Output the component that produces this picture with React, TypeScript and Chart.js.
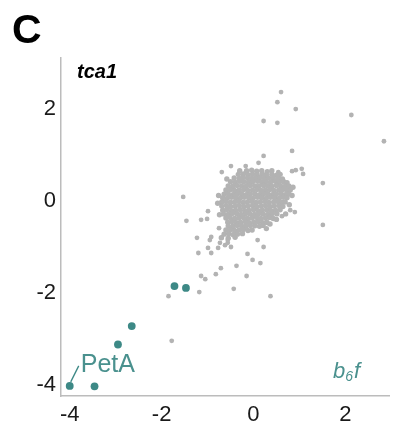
import React, { useEffect, useRef } from "react";
import { Chart, registerables } from "chart.js";

Chart.register(...registerables);

const xTicks = [-4, -2, 0, 2];
const yTicks = [-4, -2, 0, 2];

// b6f complex subunits (teal)
const b6fPoints: [number, number][] = [
  [-4.0, -4.02], [-3.46, -4.03], [-2.95, -3.12], [-2.65, -2.72], [-1.72, -1.85], [-1.47, -1.89],
];

// dense core of all proteins (gray)
const corePoints: [number, number][] = [
  [-0.15, 0.66], [-0.04, 0.67], [0.07, 0.65], [0.18, 0.66], [0.30, 0.64],
  [-0.33, 0.58], [-0.22, 0.59], [-0.12, 0.57], [-0.02, 0.58], [0.08, 0.57], [0.19, 0.59], [0.28, 0.57], [0.40, 0.58], [0.50, 0.56],
  [-0.42, 0.50], [-0.31, 0.49], [-0.23, 0.51], [-0.13, 0.50], [-0.04, 0.49], [0.05, 0.50], [0.15, 0.51], [0.24, 0.49], [0.33, 0.50], [0.43, 0.49], [0.54, 0.50], [0.63, 0.48],
  [-0.50, 0.42], [-0.40, 0.41], [-0.30, 0.43], [-0.21, 0.42], [-0.11, 0.41], [-0.02, 0.42], [0.09, 0.43], [0.18, 0.41], [0.27, 0.42], [0.37, 0.41], [0.47, 0.43], [0.56, 0.41], [0.66, 0.42], [0.73, 0.40],
  [-0.55, 0.33], [-0.45, 0.32], [-0.36, 0.34], [-0.26, 0.33], [-0.16, 0.32], [-0.07, 0.34], [0.03, 0.33], [0.12, 0.32], [0.22, 0.34], [0.31, 0.33], [0.40, 0.32], [0.50, 0.34], [0.59, 0.33], [0.69, 0.32], [0.77, 0.33],
  [-0.60, 0.24], [-0.50, 0.25], [-0.41, 0.23], [-0.31, 0.24], [-0.21, 0.25], [-0.12, 0.23], [-0.02, 0.24], [0.08, 0.25], [0.17, 0.23], [0.26, 0.24], [0.36, 0.25], [0.45, 0.23], [0.55, 0.24], [0.64, 0.25], [0.73, 0.23], [0.80, 0.24],
  [-0.64, 0.15], [-0.55, 0.16], [-0.45, 0.14], [-0.35, 0.15], [-0.26, 0.16], [-0.16, 0.14], [-0.07, 0.15], [0.03, 0.16], [0.13, 0.14], [0.22, 0.15], [0.31, 0.16], [0.41, 0.14], [0.50, 0.15], [0.60, 0.16], [0.69, 0.14], [0.77, 0.15],
  [-0.67, 0.07], [-0.57, 0.06], [-0.48, 0.08], [-0.39, 0.07], [-0.29, 0.06], [-0.20, 0.08], [-0.10, 0.07], [-0.01, 0.06], [0.09, 0.08], [0.18, 0.07], [0.28, 0.06], [0.37, 0.08], [0.46, 0.07], [0.56, 0.06], [0.65, 0.08], [0.73, 0.07],
  [-0.69, -0.02], [-0.60, -0.01], [-0.50, -0.03], [-0.41, -0.02], [-0.32, -0.01], [-0.22, -0.03], [-0.13, -0.02], [-0.03, -0.01], [0.06, -0.03], [0.15, -0.02], [0.25, -0.01], [0.34, -0.03], [0.44, -0.02], [0.53, -0.01], [0.62, -0.03], [0.69, -0.02],
  [-0.69, -0.11], [-0.59, -0.10], [-0.50, -0.12], [-0.40, -0.11], [-0.31, -0.10], [-0.21, -0.12], [-0.12, -0.11], [-0.02, -0.10], [0.07, -0.12], [0.17, -0.11], [0.26, -0.10], [0.36, -0.12], [0.45, -0.11], [0.55, -0.10], [0.64, -0.12],
  [-0.67, -0.20], [-0.58, -0.19], [-0.48, -0.21], [-0.39, -0.20], [-0.29, -0.19], [-0.19, -0.21], [-0.10, -0.20], [0.00, -0.19], [0.10, -0.21], [0.19, -0.20], [0.29, -0.19], [0.38, -0.21], [0.48, -0.20], [0.58, -0.19],
  [-0.65, -0.28], [-0.55, -0.29], [-0.46, -0.27], [-0.36, -0.28], [-0.27, -0.29], [-0.17, -0.27], [-0.08, -0.28], [0.02, -0.29], [0.12, -0.27], [0.21, -0.28], [0.31, -0.29], [0.41, -0.27], [0.51, -0.28],
  [-0.60, -0.37], [-0.51, -0.36], [-0.41, -0.38], [-0.32, -0.37], [-0.22, -0.36], [-0.13, -0.38], [-0.03, -0.37], [0.07, -0.36], [0.16, -0.38], [0.26, -0.37], [0.35, -0.36], [0.43, -0.38],
  [-0.56, -0.46], [-0.47, -0.45], [-0.37, -0.47], [-0.28, -0.46], [-0.18, -0.45], [-0.09, -0.47], [0.01, -0.46], [0.10, -0.45], [0.20, -0.47], [0.29, -0.46],
  [-0.55, -0.54], [-0.45, -0.55], [-0.36, -0.53], [-0.26, -0.54], [-0.17, -0.55], [-0.07, -0.53], [0.03, -0.54], [0.13, -0.55], [0.21, -0.53],
  [-0.60, -0.63], [-0.50, -0.62], [-0.41, -0.64], [-0.31, -0.63], [-0.22, -0.62], [-0.12, -0.64], [-0.03, -0.63],
  [-0.64, -0.72], [-0.54, -0.71], [-0.45, -0.73], [-0.35, -0.72], [-0.24, -0.71],
  [-0.70, -0.80], [-0.55, -0.81], [-0.40, -0.79],
  [-0.76, 0.12], [-0.78, -0.05], [-0.74, -0.30], [0.86, 0.30], [0.84, 0.12], [0.78, -0.08], [0.70, -0.28],
  [-0.30, 0.66], [0.40, 0.66], [0.58, 0.58], [-0.58, 0.48], [0.50, -0.40], [0.36, -0.50], [0.28, -0.60],
];

// scattered proteins outside the core (gray)
const scatterPoints: [number, number][] = [
  [0.60, 2.37], [0.52, 2.15], [0.92, 2.0], [0.22, 1.74], [0.52, 1.70], [2.13, 1.87], [2.84, 1.30],
  [0.84, 1.09], [0.22, 0.98], [0.11, 0.83], [-0.17, 0.76], [-0.49, 0.76], [-0.69, 0.63], [0.54, 0.63],
  [0.84, 0.65], [0.92, 0.67], [1.05, 0.70], [1.08, 0.59], [1.51, 0.39], [1.51, -0.52],
  [-1.53, 0.09], [-1.46, -0.43], [-1.14, -0.41], [-1.01, -0.39], [-0.99, -0.22],
  [-1.23, -0.80], [-0.95, -0.85], [-0.92, -0.78], [-0.99, -1.02], [-0.92, -1.13], [-1.20, -1.13],
  [-0.77, -1.02], [-0.73, -0.91], [-0.62, -0.96], [-0.56, -0.91], [-0.49, -1.0], [0.22, -1.0],
  [-0.13, -1.15], [-0.02, -1.28], [0.15, -1.35], [-0.37, -1.41], [-0.71, -1.46], [-0.82, -1.59],
  [-1.14, -1.63], [-1.05, -1.70], [-0.15, -1.63], [-1.18, -1.98], [-1.85, -2.07], [-0.43, -1.91],
  [-1.78, -3.04], [0.62, -0.33], [0.80, -0.20], [0.90, -0.24], [0.30, -0.48], [0.37, -2.07],
  [-0.75, -0.59], [-0.69, -0.80], [-0.56, -0.85], [0.09, -0.85],
];

const FONT = "'Liberation Sans', Arial, Helvetica, sans-serif";
const TEAL = "#3d8986";
const TEAL_TEXT = "#4a918e";
const GRAY = "#b3b3b3";
const AXIS = "#bcbcbc";

const annotations = {
  id: "annotations",
  afterDraw(chart: any) {
    const ctx = chart.ctx;
    const xs = chart.scales.x;
    const ys = chart.scales.y;
    ctx.save();
    ctx.textBaseline = "alphabetic";
    ctx.textAlign = "left";
    // panel letter
    ctx.fillStyle = "#000";
    ctx.font = `bold 41px ${FONT}`;
    ctx.fillText("C", 12, 43);
    // strain name
    ctx.font = `italic bold 20px ${FONT}`;
    ctx.fillText("tca1", 77, 78);
    // PetA label with leader line
    const px = xs.getPixelForValue(b6fPoints[0][0]);
    const py = ys.getPixelForValue(b6fPoints[0][1]);
    ctx.strokeStyle = TEAL;
    ctx.lineWidth = 1.3;
    ctx.beginPath();
    ctx.moveTo(px + 1, py - 4);
    ctx.lineTo(px + 9, py - 20);
    ctx.stroke();
    ctx.fillStyle = TEAL_TEXT;
    ctx.font = `25px ${FONT}`;
    ctx.fillText("PetA", px + 11, py - 14);
    // complex label b6f
    ctx.font = `italic 22px ${FONT}`;
    ctx.fillText("b", 333, 378);
    const bw = ctx.measureText("b").width;
    ctx.font = `italic 14px ${FONT}`;
    ctx.fillText("6", 333 + bw, 381);
    const sw = ctx.measureText("6").width;
    ctx.font = `italic 22px ${FONT}`;
    ctx.fillText("f", 333 + bw + sw + 1, 378);
    ctx.restore();
  },
};

export default function App() {
  const ref = useRef<HTMLCanvasElement | null>(null);
  useEffect(() => {
    if (!ref.current) return;
    const chart = new Chart(ref.current, {
      type: "scatter",
      data: {
        datasets: [
          {
            data: corePoints.map(([x, y]) => ({ x, y })),
            backgroundColor: GRAY,
            borderWidth: 0,
            pointRadius: 2.7,
          },
          {
            data: scatterPoints.map(([x, y]) => ({ x, y })),
            backgroundColor: GRAY,
            borderWidth: 0,
            pointRadius: 2.4,
          },
          {
            data: b6fPoints.map(([x, y]) => ({ x, y })),
            backgroundColor: TEAL,
            borderWidth: 0,
            pointRadius: 3.9,
          },
        ],
      },
      options: {
        animation: false,
        responsive: false,
        maintainAspectRatio: false,
        layout: { padding: { top: 58, right: 0, left: 0, bottom: 0 } },
        plugins: { legend: { display: false }, tooltip: { enabled: false } },
        scales: {
          x: {
            type: "linear",
            min: -4.19,
            max: 2.95,
            afterBuildTicks: (s: any) => {
              s.ticks = xTicks.map((v) => ({ value: v }));
            },
            afterFit: (s: any) => {
              s.height = 34;
            },
            grid: { display: false, drawTicks: false },
            border: { display: true, color: AXIS, width: 1.5 },
            ticks: {
              color: "#1a1a1a",
              font: { family: FONT, size: 22 },
              padding: 6,
              maxRotation: 0,
              callback: (v: any) => String(v),
            },
          },
          y: {
            type: "linear",
            min: -4.24,
            max: 3.11,
            afterBuildTicks: (s: any) => {
              s.ticks = yTicks.map((v) => ({ value: v }));
            },
            afterFit: (s: any) => {
              s.width = 61;
            },
            grid: { display: false, drawTicks: false },
            border: { display: true, color: AXIS, width: 1.5 },
            ticks: {
              color: "#1a1a1a",
              font: { family: FONT, size: 22 },
              padding: 5,
              callback: (v: any) => String(v),
            },
          },
        },
      },
      plugins: [annotations],
    });
    return () => chart.destroy();
  }, []);
  return (
    <div style={{ position: "fixed", left: 0, top: 0, width: 393, height: 430, background: "#fff" }}>
      <canvas ref={ref} width={393} height={430} style={{ width: 393, height: 430, display: "block" }} />
    </div>
  );
}
